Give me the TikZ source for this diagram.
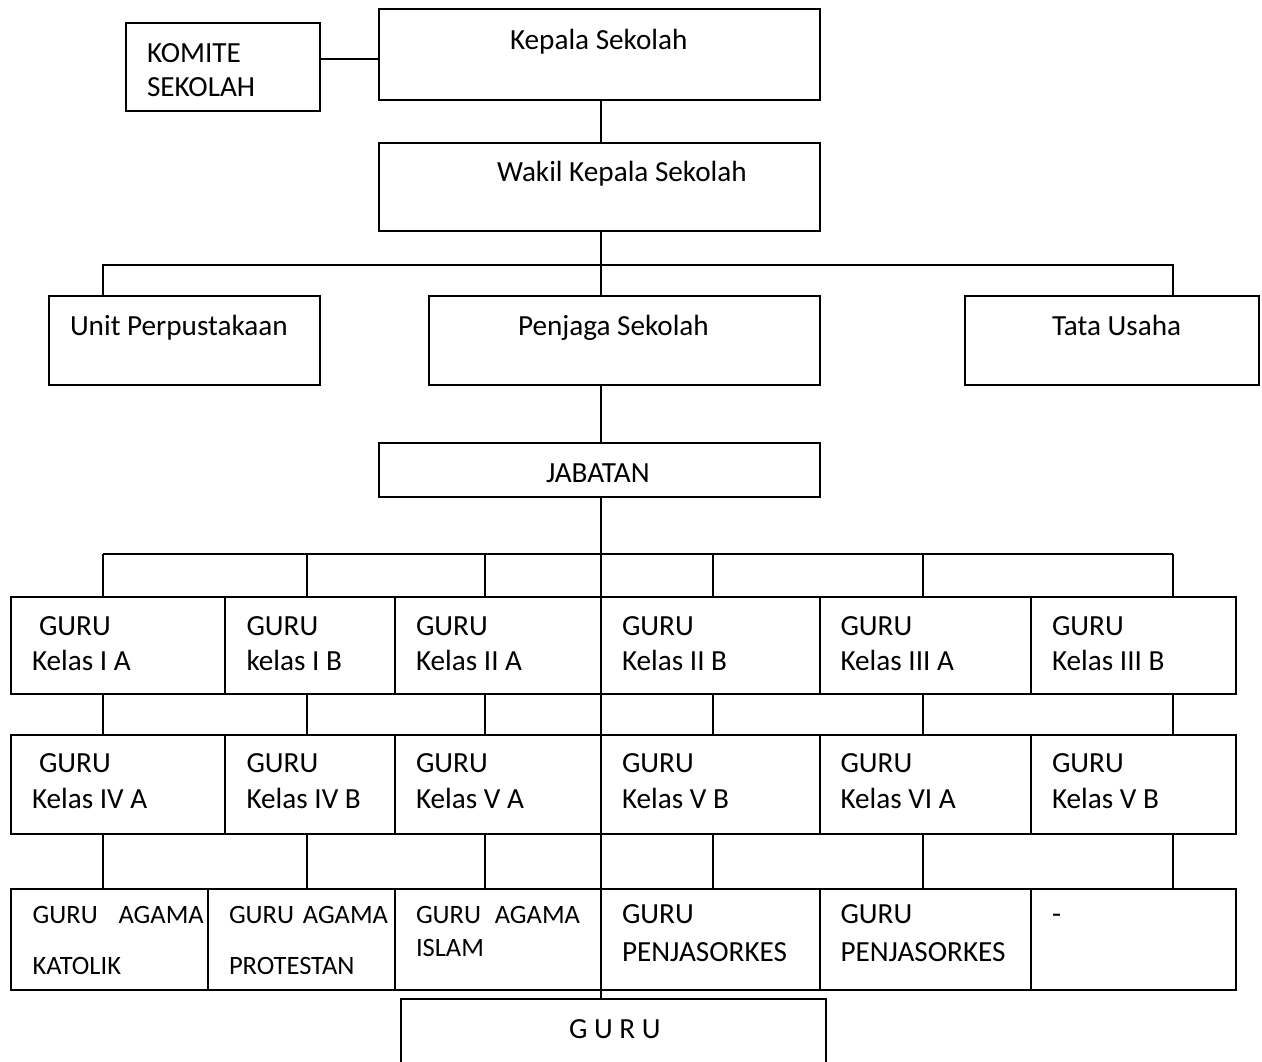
\documentclass[tikz,border=0pt]{standalone}
\usepackage{fontspec}
\setmainfont{Carlito}
\newcommand\bigf{\fontsize{29.2}{35.7}\selectfont}
\newcommand\smallf{\fontsize{26.5}{32}\selectfont}
\tikzset{
  box/.style={draw, line width=1.8pt, inner sep=0pt, outer sep=0pt},
  txt/.style={anchor=base west, inner sep=0pt, outer sep=0pt, font=\bigf},
  stxt/.style={anchor=base west, inner sep=0pt, outer sep=0pt, font=\smallf},
  conn/.style={line width=1.8pt}
}
\newcommand\bx[5]{\node[box, minimum width={(#4-#2)*1pt}, minimum height={(#5-#3)*1pt}] (#1) at ({(#2+#4)/2},{(#3+#5)/2}) {};}
\newcommand\lab[4]{\node[txt] (#1) at (#2,#3) {#4};}
\newcommand\slab[4]{\node[stxt] (#1) at (#2,#3) {#4};}
\begin{document}
\begin{tikzpicture}[x=1pt,y=-1pt]
\useasboundingbox (0,0) rectangle (1262,1062);
% boxes
\bx{komite}{126}{23}{320}{111}
\bx{kepala}{379}{9}{820}{100}
\bx{wakil}{379}{143}{820}{231}
\bx{unit}{49}{296}{320}{385}
\bx{penjaga}{429}{296}{820}{385}
\bx{tata}{965}{296}{1259}{385}
\bx{jabatan}{379}{443}{820}{497}
% row 1
\bx{ra1}{11}{597}{225}{694}
\bx{ra2}{225}{597}{395}{694}
\bx{ra3}{395}{597}{601}{694}
\bx{ra4}{601}{597}{820}{694}
\bx{ra5}{820}{597}{1031}{694}
\bx{ra6}{1031}{597}{1236}{694}
% row 2
\bx{rb1}{11}{735}{225}{834}
\bx{rb2}{225}{735}{395}{834}
\bx{rb3}{395}{735}{601}{834}
\bx{rb4}{601}{735}{820}{834}
\bx{rb5}{820}{735}{1031}{834}
\bx{rb6}{1031}{735}{1236}{834}
% row 3
\bx{rc1}{11}{889}{208}{990}
\bx{rc2}{208}{889}{395}{990}
\bx{rc3}{395}{889}{601}{990}
\bx{rc4}{601}{889}{820}{990}
\bx{rc5}{820}{889}{1031}{990}
\bx{rc6}{1031}{889}{1236}{990}
% bottom
\bx{guru}{401}{999}{826}{1090}

% coordinates
\coordinate (kl) at (0,59);
\coordinate (cx) at (601,0);
\coordinate (ua) at (103,265);
\coordinate (ta) at (1173,265);
\coordinate (g1) at (103,554);
\coordinate (g2) at (307,554);
\coordinate (g3) at (485,554);
\coordinate (g4) at (713,554);
\coordinate (g5) at (923,554);
\coordinate (g6) at (1173,554);

% connectors
\draw[conn] (komite.east |- kl) -- (kepala.west |- kl);
\draw[conn] (kepala.south -| cx) -- (wakil.north -| cx);
\draw[conn] (wakil.south -| cx) -- (penjaga.north -| cx);
\draw[conn] (unit.north -| ua) -- (ua) -- (ta) -- (tata.north -| ta);
\draw[conn] (penjaga.south -| cx) -- (jabatan.north -| cx);
\draw[conn] (jabatan.south -| cx) -- (guru.north -| cx);
\draw[conn] (g1) -- (g6);
\foreach \i in {1,...,6}{
  \draw[conn] (g\i) -- (ra\i.north -| g\i);
  \draw[conn] (ra\i.south -| g\i) -- (rb\i.north -| g\i);
  \draw[conn] (rb\i.south -| g\i) -- (rc\i.north -| g\i);
}

% texts
\lab{t1}{147}{62.3}{KOMITE}
\lab{t2}{147}{96.7}{SEKOLAH}
\lab{t3}{510}{49.3}{Kepala Sekolah}
\lab{t4}{497}{182}{Wakil Kepala Sekolah}
\lab{t5}{70}{335}{Unit Perpustakaan}
\lab{t6}{518}{335}{Penjaga Sekolah}
\lab{t7}{1052}{335}{Tata Usaha}
\lab{t8}{546}{482}{JABATAN}

\lab{a1}{39}{635}{GURU}      \lab{a1b}{32}{670.7}{Kelas I A}
\lab{a2}{246.5}{635}{GURU}   \lab{a2b}{246.5}{670.7}{kelas I B}
\lab{a3}{416}{635}{GURU}     \lab{a3b}{416}{670.7}{Kelas II A}
\lab{a4}{622}{635}{GURU}     \lab{a4b}{622}{670.7}{Kelas II B}
\lab{a5}{840.5}{635}{GURU}   \lab{a5b}{840.5}{670.7}{Kelas III A}
\lab{a6}{1052}{635}{GURU}    \lab{a6b}{1052}{670.7}{Kelas III B}

\lab{b1}{39}{772.3}{GURU}      \lab{b1b}{32}{808.3}{Kelas IV A}
\lab{b2}{246.5}{772.3}{GURU}   \lab{b2b}{246.5}{808.3}{Kelas IV B}
\lab{b3}{416}{772.3}{GURU}     \lab{b3b}{416}{808.3}{Kelas V A}
\lab{b4}{622}{772.3}{GURU}     \lab{b4b}{622}{808.3}{Kelas V B}
\lab{b5}{840.5}{772.3}{GURU}   \lab{b5b}{840.5}{808.3}{Kelas VI A}
\lab{b6}{1052}{772.3}{GURU}    \lab{b6b}{1052}{808.3}{Kelas V B}

\slab{c1}{32.7}{923.3}{\makebox[171pt][s]{GURU AGAMA}}
\slab{c1b}{32.7}{974}{KATOLIK}
\slab{c2}{229}{923.3}{\makebox[159pt][s]{GURU AGAMA}}
\slab{c2b}{229}{974}{PROTESTAN}
\slab{c3}{416}{923.3}{\makebox[164pt][s]{GURU AGAMA}}
\slab{c3b}{416}{956.7}{ISLAM}
\lab{c4}{622}{923}{GURU}     \lab{c4b}{622}{961.7}{PENJASORKES}
\lab{c5}{840.5}{923}{GURU}   \lab{c5b}{840.5}{961.7}{PENJASORKES}
\lab{c6}{1052}{923}{-}

\lab{gt}{569}{1038.3}{G U R U}
\end{tikzpicture}
\end{document}
